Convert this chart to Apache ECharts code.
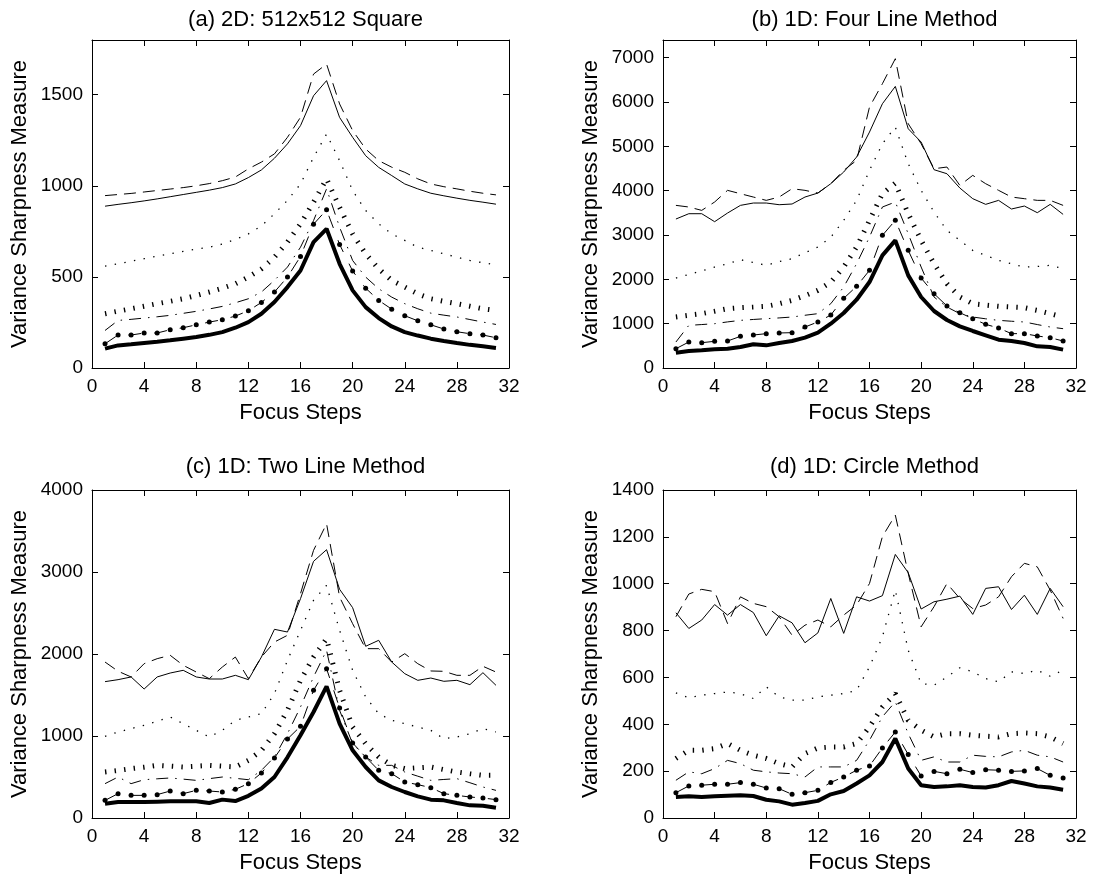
<!DOCTYPE html>
<html><head><meta charset="utf-8">
<script src="https://cdn.jsdelivr.net/npm/echarts@6/dist/echarts.min.js"></script>
<style>html,body{margin:0;padding:0;background:#fff}#c{width:1094px;height:880px}</style>
</head><body><div id="c"></div><script>
// ---------- data ----------
const focusSteps = [1,2,3,4,5,6,7,8,9,10,11,12,13,14,15,16,17,18,19,20,21,22,23,24,25,26,27,28,29,30,31];
const panelTitles = ['(a) 2D: 512x512 Square', '(b) 1D: Four Line Method', '(c) 1D: Two Line Method', '(d) 1D: Circle Method'];
const xAxisName = 'Focus Steps';
const yAxisName = 'Variance Sharpness Measure';
const xMin = 0, xMax = 32, xStep = 4;
const yMaxes = [1800, 7400, 4000, 1400];
const ySteps = [500, 1000, 1000, 200];

// (a) 2D: 512x512 Square
const aSolid    = [888, 898, 907, 917, 928, 940, 952, 964, 976, 990, 1010, 1045, 1087, 1151, 1230, 1330, 1494, 1577, 1375, 1266, 1165, 1101, 1056, 1010, 983, 959, 945, 932, 920, 910, 899];
const aDashed   = [946, 952, 958, 966, 974, 982, 990, 1000, 1012, 1028, 1048, 1093, 1130, 1175, 1266, 1376, 1613, 1668, 1449, 1303, 1202, 1138, 1102, 1074, 1038, 1010, 995, 983, 970, 959, 950];
const aDotted   = [559, 572, 586, 600, 614, 627, 640, 652, 663, 680, 705, 736, 780, 846, 920, 1010, 1156, 1284, 1138, 974, 864, 791, 736, 700, 663, 645, 627, 608, 590, 578, 566];
const aThickDot = [298, 312, 325, 339, 353, 366, 380, 398, 417, 438, 462, 499, 544, 608, 691, 791, 910, 1038, 882, 736, 627, 544, 481, 444, 407, 380, 366, 353, 339, 325, 316];
const aDashDot  = [206, 261, 267, 274, 281, 289, 300, 311, 324, 338, 358, 380, 417, 481, 554, 663, 809, 983, 773, 590, 499, 435, 389, 353, 325, 301, 290, 280, 266, 252, 239];
const aMarker   = [133, 181, 181, 192, 192, 210, 221, 237, 252, 265, 285, 314, 360, 417, 499, 612, 789, 868, 678, 532, 438, 371, 323, 287, 259, 237, 214, 199, 188, 181, 166];
const aThick    = [106, 124, 130, 137, 144, 152, 161, 170, 182, 197, 221, 252, 298, 362, 444, 535, 691, 764, 572, 426, 334, 274, 228, 197, 178, 161, 148, 137, 127, 119, 110];

// (b) 1D: Four Line Method
const bSolid    = [3361, 3481, 3481, 3301, 3496, 3669, 3722, 3722, 3684, 3700, 3857, 3947, 4158, 4421, 4760, 5323, 5962, 6353, 5398, 5098, 4474, 4383, 4060, 3820, 3692, 3782, 3587, 3654, 3504, 3692, 3466];
const bDashed   = [3669, 3632, 3556, 3745, 4008, 3932, 3857, 3782, 3857, 4045, 4008, 3947, 4158, 4459, 4684, 5887, 6414, 6978, 5511, 5060, 4496, 4534, 4120, 4346, 4158, 4008, 3857, 3820, 3782, 3782, 3669];
const bDotted   = [2030, 2110, 2190, 2278, 2350, 2444, 2380, 2316, 2400, 2466, 2600, 2729, 2950, 3331, 3782, 4459, 5060, 5436, 4609, 4008, 3519, 3105, 2880, 2654, 2540, 2429, 2350, 2278, 2290, 2316, 2241];
const bThickDot = [1150, 1190, 1226, 1280, 1338, 1360, 1375, 1391, 1450, 1526, 1630, 1752, 1940, 2278, 2729, 3331, 3932, 4173, 3481, 2880, 2353, 1902, 1601, 1451, 1420, 1391, 1375, 1361, 1300, 1226, 1150];
const bDashDot  = [586, 962, 980, 1000, 1040, 1075, 1095, 1113, 1130, 1150, 1190, 1226, 1451, 1827, 2353, 2955, 3632, 3745, 3030, 2278, 1601, 1376, 1226, 1150, 1110, 1075, 1055, 1038, 980, 925, 887];
const bMarker   = [436, 586, 571, 602, 609, 714, 744, 775, 790, 797, 925, 1038, 1195, 1571, 1842, 2203, 2993, 3331, 2654, 2030, 1677, 1399, 1248, 1113, 985, 902, 775, 775, 722, 684, 609];
const bThick    = [346, 383, 398, 421, 436, 474, 534, 511, 564, 609, 684, 797, 1000, 1241, 1541, 1940, 2542, 2880, 2090, 1602, 1286, 1083, 940, 835, 737, 639, 609, 564, 489, 474, 414];

// (c) 1D: Two Line Method
const cSolid    = [1663, 1687, 1720, 1573, 1720, 1768, 1801, 1720, 1695, 1695, 1740, 1687, 1963, 2301, 2268, 2675, 3130, 3272, 2789, 2565, 2094, 2167, 1902, 1760, 1679, 1707, 1667, 1679, 1626, 1772, 1618];
const cDashed   = [1902, 1790, 1720, 1882, 1943, 1984, 1862, 1780, 1699, 1841, 1963, 1699, 1963, 2146, 2228, 2736, 3264, 3589, 2695, 2370, 2065, 2065, 1902, 2004, 1882, 1793, 1789, 1740, 1740, 1850, 1780];
const cDotted   = [996, 1049, 1090, 1130, 1180, 1232, 1150, 1069, 988, 1069, 1191, 1232, 1272, 1516, 1923, 2289, 2654, 2837, 2289, 1801, 1476, 1272, 1191, 1150, 1110, 1069, 967, 988, 1028, 1089, 1049];
const cThickDot = [561, 580, 602, 620, 642, 632, 622, 632, 642, 632, 622, 703, 825, 1028, 1313, 1679, 1963, 2187, 1557, 1110, 906, 744, 642, 602, 612, 622, 590, 561, 540, 520, 520];
const cDashDot  = [419, 500, 419, 467, 478, 488, 474, 459, 480, 500, 484, 467, 581, 744, 1028, 1354, 1720, 2045, 1313, 906, 744, 642, 642, 561, 510, 459, 470, 480, 430, 378, 337];
const cMarker   = [215, 297, 276, 276, 285, 329, 297, 337, 329, 317, 350, 419, 549, 732, 963, 1118, 1557, 1821, 1341, 915, 744, 581, 541, 439, 407, 370, 297, 276, 256, 244, 224];
const cThick    = [175, 195, 195, 195, 199, 203, 203, 203, 183, 224, 207, 270, 360, 500, 740, 1008, 1293, 1606, 1150, 825, 622, 459, 378, 317, 264, 224, 215, 183, 154, 150, 126];

// (d) 1D: Circle Method
const dSolid    = [876, 809, 845, 911, 866, 911, 877, 778, 863, 833, 748, 790, 937, 788, 944, 926, 949, 1125, 1047, 892, 923, 934, 947, 869, 980, 987, 890, 951, 869, 980, 902];
const dDashed   = [859, 956, 976, 966, 830, 944, 916, 902, 859, 780, 823, 845, 816, 866, 909, 1001, 1201, 1293, 1044, 816, 902, 1001, 937, 894, 909, 944, 1030, 1087, 1072, 973, 852];
const dDotted   = [534, 513, 524, 531, 538, 531, 510, 560, 517, 503, 503, 517, 524, 531, 545, 645, 773, 973, 716, 574, 567, 602, 641, 624, 595, 581, 624, 617, 631, 605, 631];
const dThickDot = [254, 289, 289, 296, 318, 289, 268, 254, 232, 218, 275, 299, 303, 303, 318, 389, 474, 531, 417, 375, 346, 360, 360, 353, 349, 346, 360, 363, 360, 346, 318];
const dDashDot  = [161, 197, 189, 211, 246, 232, 204, 197, 192, 189, 175, 218, 218, 218, 246, 332, 432, 496, 360, 246, 261, 239, 239, 268, 263, 261, 282, 289, 268, 261, 239];
const dMarker   = [108, 137, 140, 144, 144, 151, 144, 128, 125, 101, 108, 118, 152, 175, 204, 222, 299, 367, 271, 179, 199, 189, 208, 194, 206, 204, 199, 201, 211, 182, 171];
const dThick    = [90, 93, 90, 93, 95, 97, 94, 78, 71, 57, 64, 73, 101, 115, 147, 182, 239, 339, 211, 140, 132, 135, 140, 132, 130, 140, 158, 147, 135, 130, 121];

const panelSeries = [
  [aSolid, aDashed, aDotted, aThickDot, aDashDot, aMarker, aThick],
  [bSolid, bDashed, bDotted, bThickDot, bDashDot, bMarker, bThick],
  [cSolid, cDashed, cDotted, cThickDot, cDashDot, cMarker, cThick],
  [dSolid, dDashed, dDotted, dThickDot, dDashDot, dMarker, dThick]
];

// ---------- layout & styles ----------
const FONT = "'Liberation Sans', Arial, Helvetica, sans-serif";
const grids = [
  {left: 92,  top: 40,  width: 417, height: 328},
  {left: 663, top: 40,  width: 413, height: 328},
  {left: 92,  top: 490, width: 417, height: 328},
  {left: 663, top: 490, width: 413, height: 328}
];
const titleTops = [4, 451];
const lineStyles = [
  {ls: {width: 1, type: 'solid'}},
  {ls: {width: 1, type: [12, 7]}},
  {ls: {width: 1.3, type: [1.4, 8.4]}},
  {ls: {width: 5, type: [1.4, 8.2], cap: 'butt'}},
  {ls: {width: 1, type: [12, 7, 1.5, 7]}},
  {ls: {width: 1, type: [13, 13]}, marker: true},
  {ls: {width: 4, type: 'solid'}}
];

const option = {
  animation: false,
  backgroundColor: '#fff',
  textStyle: {fontFamily: FONT},
  title: [], grid: [], xAxis: [], yAxis: [], series: []
};

grids.forEach((g, i) => {
  option.grid.push({left: g.left, top: g.top, width: g.width, height: g.height, containLabel: false});
  option.title.push({
    text: panelTitles[i], left: g.left + g.width / 2, top: titleTops[i < 2 ? 0 : 1], textAlign: 'center',
    textStyle: {fontFamily: FONT, fontSize: 22, fontWeight: 'normal', color: '#000'}
  });
  const yFmt = v => (Math.round(v) % ySteps[i] === 0 ? String(v) : '');
  const mk = () => ({
    axisLine: {show: true, onZero: false, lineStyle: {color: '#000', width: 1}},
    axisTick: {show: true, inside: true, length: 6, lineStyle: {color: '#000', width: 1}},
    splitLine: {show: false}
  });
  option.xAxis.push(Object.assign({
    type: 'value', gridIndex: i, position: 'bottom', min: xMin, max: xMax, interval: xStep,
    name: xAxisName, nameLocation: 'middle', nameGap: 34,
    nameTextStyle: {fontFamily: FONT, fontSize: 22, color: '#000'},
    axisLabel: {show: true, margin: 9, fontFamily: FONT, fontSize: 19, color: '#000'}
  }, mk()));
  option.xAxis.push(Object.assign({
    type: 'value', gridIndex: i, position: 'top', min: xMin, max: xMax, interval: xStep,
    axisLabel: {show: false}
  }, mk()));
  option.yAxis.push(Object.assign({
    type: 'value', gridIndex: i, position: 'left', min: 0, max: yMaxes[i], interval: ySteps[i],
    name: yAxisName, nameLocation: 'middle', nameGap: 61,
    nameTextStyle: {fontFamily: FONT, fontSize: 22, color: '#000'},
    axisLabel: {show: true, margin: 9, fontFamily: FONT, fontSize: 19, color: '#000', formatter: yFmt}
  }, mk()));
  option.yAxis.push(Object.assign({
    type: 'value', gridIndex: i, position: 'right', min: 0, max: yMaxes[i], interval: ySteps[i],
    axisLabel: {show: false}
  }, mk()));

  panelSeries[i].forEach((vals, k) => {
    const st = lineStyles[k];
    option.series.push({
      type: 'line', xAxisIndex: i * 2, yAxisIndex: i * 2,
      data: focusSteps.map((x, j) => [x, vals[j]]),
      symbol: st.marker ? 'circle' : 'none', symbolSize: 5, showSymbol: !!st.marker,
      itemStyle: {color: '#000'},
      lineStyle: Object.assign({color: '#000'}, st.ls),
      silent: true, z: 2 + k
    });
  });
});

const chart = echarts.init(document.getElementById('c'), null, {renderer: 'canvas'});
chart.setOption(option);
</script></body></html>
